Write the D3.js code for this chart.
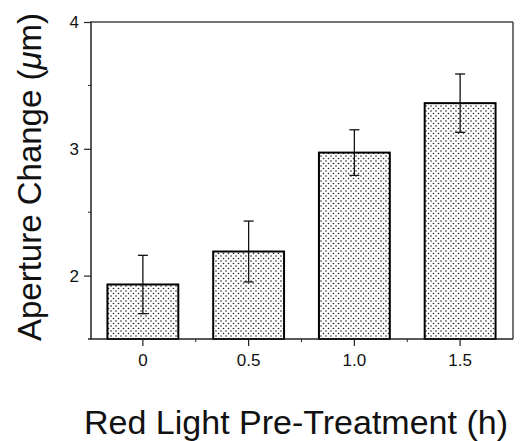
<!DOCTYPE html>
<html>
<head>
<meta charset="utf-8">
<script src="https://cdn.jsdelivr.net/npm/d3@7"></script>
<style>
  body { margin: 0; background: #fff; }
  text { font-family: "Liberation Sans", Arial, Helvetica, sans-serif; }
</style>
</head>
<body>
<script>
// data
var categories = ["0", "0.5", "1.0", "1.5"]
var values = [1.93, 2.19, 2.97, 3.36]
var errors = [0.23, 0.24, 0.18, 0.23]
var yTicks = [2, 3, 4]
var yMinor = [2.5, 3.5]

var W = 523, H = 441
var margin = {top: 22, right: 10, bottom: 102, left: 90}

var svg = d3.select("body").append("svg")
    .attr("width", W)
    .attr("height", H)

// stipple fill for the bars
var pat = svg.append("defs").append("pattern")
    .attr("id", "dots")
    .attr("patternUnits", "userSpaceOnUse")
    .attr("width", 5)
    .attr("height", 5)
pat.append("rect").attr("width", 5).attr("height", 5).attr("fill", "#fff")
pat.append("circle").attr("cx", 1).attr("cy", 1).attr("r", 0.8).attr("fill", "#222")
pat.append("circle").attr("cx", 3.5).attr("cy", 3.5).attr("r", 0.8).attr("fill", "#222")

var x = d3.scaleBand()
    .domain(categories)
    .range([margin.left, W - margin.right])
    .paddingInner(0.33)
    .paddingOuter(0.165)

var y = d3.scaleLinear()
    .domain([1.5, 4])
    .range([H - margin.bottom, margin.top])

var g = svg.append("g")

// frame: top and right lines
g.append("line")
    .attr("x1", x.range()[0]).attr("x2", x.range()[1])
    .attr("y1", y(4)).attr("y2", y(4))
    .attr("stroke", "#444").attr("stroke-width", 1.5)
g.append("line")
    .attr("x1", x.range()[1]).attr("x2", x.range()[1])
    .attr("y1", y(4)).attr("y2", y(1.5))
    .attr("stroke", "#444").attr("stroke-width", 1.5)

// bars
g.selectAll("rect.bar")
    .data(values)
    .enter().append("rect")
    .attr("class", "bar")
    .attr("x", function(d, i) { return x(categories[i]) })
    .attr("width", x.bandwidth())
    .attr("y", function(d) { return y(d) })
    .attr("height", function(d) { return y(1.5) - y(d) })
    .attr("fill", "url(#dots)")
    .attr("stroke", "#000")
    .attr("stroke-width", 2)

// error bars
var eb = g.selectAll("g.err")
    .data(values)
    .enter().append("g")
    .attr("class", "err")
    .attr("stroke", "#111")
    .attr("stroke-width", 1.3)
eb.append("line")
    .attr("x1", function(d, i) { return x(categories[i]) + x.bandwidth() / 2 })
    .attr("x2", function(d, i) { return x(categories[i]) + x.bandwidth() / 2 })
    .attr("y1", function(d, i) { return y(d + errors[i]) })
    .attr("y2", function(d, i) { return y(d - errors[i]) })
eb.selectAll("line.cap")
    .data(function(d, i) { return [[i, d + errors[i]], [i, d - errors[i]]] })
    .enter().append("line")
    .attr("class", "cap")
    .attr("x1", function(d) { return x(categories[d[0]]) + x.bandwidth() / 2 - 5 })
    .attr("x2", function(d) { return x(categories[d[0]]) + x.bandwidth() / 2 + 5 })
    .attr("y1", function(d) { return y(d[1]) })
    .attr("y2", function(d) { return y(d[1]) })

// y axis
var yAxis = g.append("g")
    .attr("transform", "translate(" + (margin.left + 1) + ",0)")
    .call(d3.axisLeft(y).tickValues(yTicks).tickFormat(d3.format("d")).tickSize(7).tickPadding(5))
yAxis.select(".domain").attr("d", "M0," + y(4) + "V" + y(1.5)).attr("stroke", "#222").attr("stroke-width", 1.5)
yAxis.selectAll(".tick line").attr("stroke", "#222").attr("stroke-width", 1.2)
yAxis.selectAll("text").style("font-size", "17px").attr("fill", "#111")
yAxis.selectAll("line.minor")
    .data(yMinor)
    .enter().append("line")
    .attr("class", "minor")
    .attr("x1", -3).attr("x2", 0)
    .attr("y1", function(d) { return y(d) }).attr("y2", function(d) { return y(d) })
    .attr("stroke", "#222").attr("stroke-width", 1)

// x axis
var xAxis = g.append("g")
    .attr("transform", "translate(0," + y(1.5) + ")")
    .call(d3.axisBottom(x).tickSize(7).tickPadding(8))
xAxis.select(".domain").attr("d", "M" + (margin.left - 2) + ",0H" + x.range()[1]).attr("stroke", "#222").attr("stroke-width", 1.5)
xAxis.selectAll(".tick line").attr("stroke", "#222").attr("stroke-width", 1.2)
xAxis.selectAll("text").style("font-size", "17px").attr("fill", "#111")
xAxis.selectAll("line.minor")
    .data(categories.slice(1))
    .enter().append("line")
    .attr("class", "minor")
    .attr("x1", function(d) { return x(d) - x.step() * x.paddingInner() / 2 })
    .attr("x2", function(d) { return x(d) - x.step() * x.paddingInner() / 2 })
    .attr("y1", 0).attr("y2", 3)
    .attr("stroke", "#222").attr("stroke-width", 1)

// axis titles
svg.append("text")
    .attr("x", 296)
    .attr("y", 434)
    .attr("text-anchor", "middle")
    .style("font-size", "34px")
    .attr("fill", "#111")
    .text("Red Light Pre-Treatment (h)")

var yTitle = svg.append("text")
    .attr("transform", "translate(41,177) rotate(-90)")
    .attr("text-anchor", "middle")
    .style("font-size", "33px")
    .attr("fill", "#111")
yTitle.append("tspan").text("Aperture Change (")
yTitle.append("tspan").style("font-style", "italic").text("μ")
yTitle.append("tspan").text("m)")
</script>
</body>
</html>
